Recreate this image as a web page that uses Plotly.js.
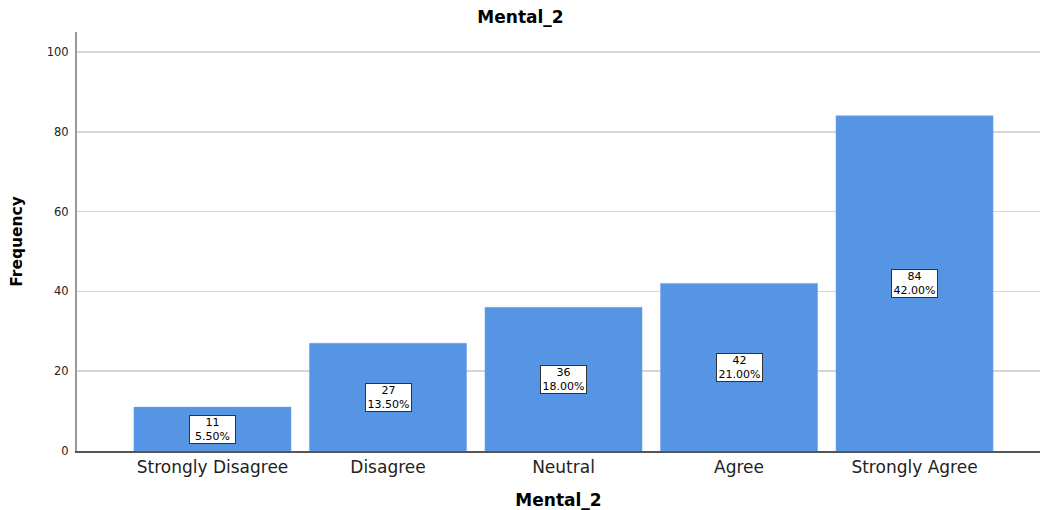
<!DOCTYPE html>
<html>
<head>
<meta charset="utf-8">
<script src="https://cdn.plot.ly/plotly-3.0.1.min.js"></script>
<style>html,body{margin:0;padding:0;background:#fff;}#chart{width:1041px;height:510px;}</style>
</head>
<body>
<div id="chart"></div>
<script>
const categories = ["Strongly Disagree", "Disagree", "Neutral", "Agree", "Strongly Agree"];
const counts = [11, 27, 36, 42, 84];
const percents = ["5.50%", "13.50%", "18.00%", "21.00%", "42.00%"];
const yTicks = [0, 20, 40, 60, 80, 100];

const FONT = "DejaVu Sans, Verdana, sans-serif";

const trace = {
  type: "bar",
  x: categories,
  y: counts,
  width: 0.895,
  marker: {color: "#5695E3", line: {color: "#6ea6ea", width: 0.5}},
  hoverinfo: "skip"
};

const annotations = categories.map((c, i) => ({
  x: c, y: counts[i] / 2, xref: "x", yref: "y",
  text: counts[i] + "<br>" + percents[i],
  showarrow: false,
  font: {family: FONT, size: 11, color: "#000"},
  width: 44,
  height: 26,
  bgcolor: "#ffffff",
  bordercolor: "#333333",
  borderwidth: 1,
  borderpad: 0.5,
  align: "center"
}));

const layout = {
  width: 1041, height: 510,
  margin: {l: 77, r: 1, t: 32, b: 59},
  paper_bgcolor: "#ffffff",
  plot_bgcolor: "#ffffff",
  showlegend: false,
  title: {text: "<b>Mental_2</b>", font: {family: FONT, size: 17, color: "#000"}, x: 0.5, xanchor: "center", y: 0.966, yanchor: "middle"},
  xaxis: {
    type: "category",
    range: [-0.772, 4.715],
    showgrid: false,
    showline: true, linecolor: "#555555", linewidth: 1.5,
    ticks: "",
    tickfont: {family: FONT, size: 17, color: "#222"},
    title: {text: "<b>Mental_2</b>", font: {family: FONT, size: 17, color: "#000"}, standoff: 18},
    zeroline: false
  },
  yaxis: {
    range: [0, 105],
    tickvals: yTicks,
    ticktext: yTicks.map(String),
    showgrid: true, gridcolor: "#d6d6d6", gridwidth: 1.5,
    showline: true, linecolor: "#999999", linewidth: 2,
    ticks: "",
    ticklabelstandoff: 4,
    tickfont: {family: FONT, size: 11.5, color: "#222"},
    title: {text: "<b>Frequency</b>", font: {family: FONT, size: 15.5, color: "#000"}, standoff: 20},
    zeroline: false
  },
  annotations: annotations
};

Plotly.newPlot("chart", [trace], layout, {staticPlot: true, displayModeBar: false});
</script>
</body>
</html>
